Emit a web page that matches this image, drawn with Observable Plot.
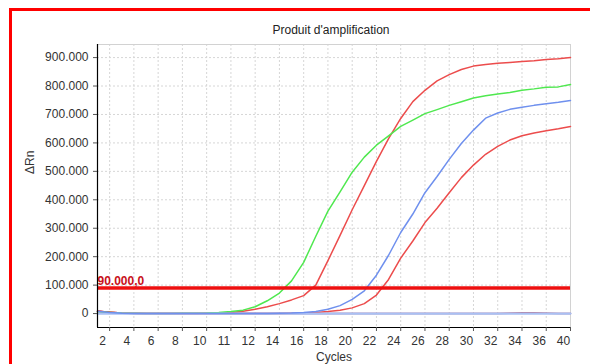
<!DOCTYPE html>
<html>
<head>
<meta charset="utf-8">
<script src="https://cdn.jsdelivr.net/npm/d3@7"></script>
<script src="https://cdn.jsdelivr.net/npm/@observablehq/plot@0.6"></script>
<style>
  html, body { margin: 0; padding: 0; background: #fff; width: 590px; height: 364px; overflow: hidden; }
  #wrap { position: relative; width: 590px; height: 364px; }
  #border { position: absolute; left: 9px; top: 8px; width: 640px; height: 420px; border: 3px solid #ff0000; pointer-events: none; }
</style>
</head>
<body>
<div id="wrap"><div id="border"></div></div>
<script>
// ---- data (ΔRn in thousands, one value per cycle) ----
const cycles = [1,2,3,4,5,6,7,8,9,10,11,12,13,14,15,16,17,18,19,20,21,22,23,24,25,26,27,28,29,30,31,32,33,34,35,36,37,38,39,40];
const greenK = [6,4,2,1,0,0,0,1,1,2,4,7,12,24,45,72,115,180,272,360,428,497,550,592,625,658,680,703,717,732,745,758,766,772,777,785,790,796,797,805];
const red1K  = [8,5,2,1,0,0,0,0,0,1,2,4,8,15,24,35,48,63,100,186,275,365,450,535,615,686,745,785,818,840,858,870,876,880,883,886,889,893,896,900];
const blueK  = [8,4,1,0,0,0,0,0,0,0,0,0,0,0,0,1,2,4,7,15,28,50,80,135,205,285,350,425,482,542,598,645,687,705,718,725,732,738,743,749];
const red2K  = [8,5,2,1,0,0,0,0,0,0,0,0,0,0,0,0,1,2,4,7,12,20,35,65,120,195,255,320,370,425,478,522,560,588,610,625,635,643,650,658];
const zeroK  = [0,0,0,0,0,0,0,0,0,0,0,0,0,0,0,0,0,0,0,0,0,0,0,0,0,0,0,0,0,0,0,0,0,0,0,0,0,0,0,0];
const red3K  = [9,5,2,0,0,0,0,0,0,0,0,0,0,0,0,0,0,0,0,0,0,0,0,0,0,0,0,0,0,0,0,0,0,0,1,2,2,1,0,0];

const xTicks = [2,4,6,8,10,12,14,16,18,20,22,24,26,28,30,32,34,36,38,40];
const xTickLabels = ["2","4","6","8","10","11","12","14","16","18","20","22","24","26","28","30","32","34","36","40"];
const yTicks = [0,100000,200000,300000,400000,500000,600000,700000,800000,900000];
const yTickLabels = ["0","100.000","200.000","300.000","400.000","500.000","600.000","700.000","800.000","900.000"];
const threshold = 90000;
const thresholdLabel = "90.000,0";
const title = "Produit d'amplification";
const xLabel = "Cycles";
const yLabel = "ΔRn";

// drawing order: first drawn = bottom
const seriesNames = ["red3", "red2", "red1", "green", "zero", "blue"];
const seriesData = { zero: zeroK, red3: red3K, blue: blueK, red2: red2K, green: greenK, red1: red1K };
const seriesColors = ["#a0304c", "#ec4c4c", "#ec4c4c", "#4fe84f", "#a9c0f4", "#6f90ee"];

const table = [];
for (const s of seriesNames) {
  seriesData[s].forEach((v, i) => table.push({ series: s, cycle: cycles[i], value: v * 1000 }));
}

const font = "'Liberation Sans', Arial, sans-serif";

const chart = Plot.plot({
  width: 590,
  height: 364,
  marginLeft: 97,
  marginRight: 20,
  marginTop: 44,
  marginBottom: 37,
  style: { fontFamily: font, fontSize: "12px", color: "#333", background: "transparent", overflow: "visible" },
  x: { domain: [1, 40], label: null },
  y: { domain: [-49000, 946000], label: null },
  color: { domain: seriesNames, range: seriesColors },
  marks: [
    Plot.gridX(xTicks, { stroke: "#d6d6d6", strokeOpacity: 1, strokeDasharray: "2,2" }),
    Plot.gridY(yTicks, { stroke: "#d6d6d6", strokeOpacity: 1, strokeDasharray: "2,2" }),
    Plot.frame({ stroke: "#d2d2d2" }),
    Plot.line(table, {
      x: "cycle", y: "value", z: "series", stroke: "series",
      strokeWidth: d => (d.series === "zero" ? 2.2 : 1.5)
    }),
    Plot.ruleY([threshold], { stroke: "#ee1010", strokeWidth: 3.5 }),
    Plot.text([threshold], { y: d => d, text: () => thresholdLabel, frameAnchor: "left", textAnchor: "start", lineAnchor: "bottom", dx: 0, dy: -3, fill: "#c8101a", fontWeight: "bold", fontSize: 12 }),
    Plot.ruleX([1], { stroke: "#000", strokeWidth: 1.2 }),
    Plot.ruleY([-49000], { stroke: "#000", strokeWidth: 1.2 }),
    Plot.axisX(xTicks, { tickFormat: () => "", tickSize: 4, label: null, stroke: "#555" }),
    Plot.axisX(xTicks, { tickFormat: d => xTickLabels[xTicks.indexOf(d)], tickSize: 0, tickPadding: 9, dx: -7, label: null, fill: "#333" }),
    Plot.axisY(yTicks, { tickFormat: d => yTickLabels[yTicks.indexOf(d)], tickSize: 4, tickPadding: 5, label: null, stroke: "#555", fill: "#333" }),
    Plot.text([title], { frameAnchor: "top", dy: -19, dx: -3, fontSize: 12, fill: "#222" }),
    Plot.text([xLabel], { frameAnchor: "bottom", dy: 33, fontSize: 12, fill: "#333" }),
    Plot.text([yLabel], { frameAnchor: "left", dx: -67, dy: -12, rotate: -90, fontSize: 12, fill: "#333" })
  ]
});
chart.style.position = "absolute";
chart.style.left = "0px";
chart.style.top = "0px";
document.getElementById("wrap").prepend(chart);
</script>
</body>
</html>
